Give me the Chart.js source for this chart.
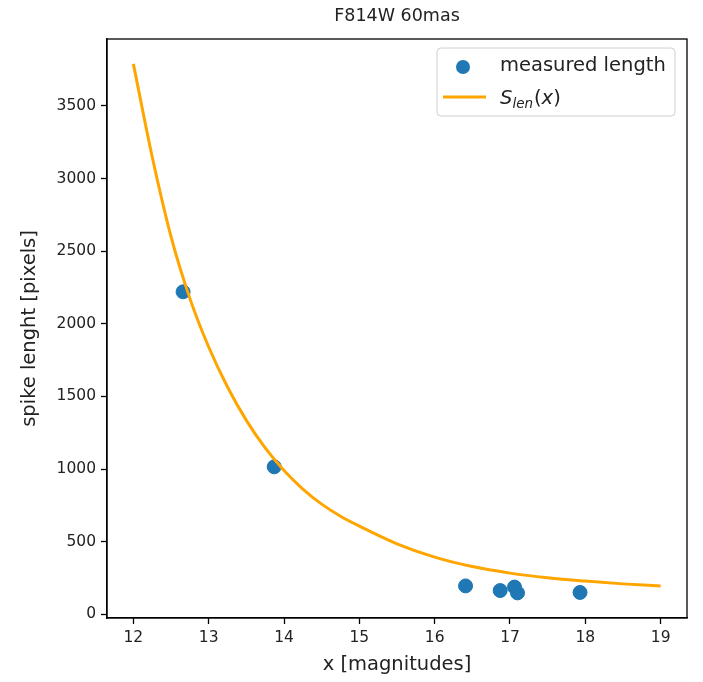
<!DOCTYPE html>
<html>
<head>
<meta charset="utf-8">
<script src="https://cdn.jsdelivr.net/npm/chart.js@4.4.1/dist/chart.umd.min.js"></script>
<style>
  html, body { margin: 0; padding: 0; background: #fff; }
  #wrap { width: 703px; height: 682px; position: relative; }
</style>
</head>
<body>
<div id="wrap"><canvas id="chart"></canvas></div>
<script>
'use strict';

// measured spike lengths
const measuredMag = [12.66, 13.87, 16.41, 16.87, 17.06, 17.10, 17.93];
const measuredLen = [2220, 1015, 195, 163, 187, 147, 150];

// S_len(x) curve
const curveMag = [12, 12.25, 12.5, 12.75, 13, 13.25, 13.5, 13.75, 14, 14.25, 14.5, 14.75, 15, 15.5, 16, 16.5, 17, 17.5, 18, 18.5, 19];
const curveLen = [3790, 3150, 2600, 2175, 1840, 1565, 1335, 1145, 990, 862, 758, 675, 607, 485, 393, 328, 283, 251, 228, 209, 194];

const xTicks = [12, 13, 14, 15, 16, 17, 18, 19];
const yTicks = [0, 500, 1000, 1500, 2000, 2500, 3000, 3500];

const FONT = 'DejaVu Sans';
const BLUE = '#1f77b4';
const ORANGE = '#ffa500';
const TEXT = '#222';

const framePlugin = {
    id: 'frame',
    afterDraw(chart) {
        const { ctx, chartArea: a } = chart;
        ctx.save();
        // axes box
        ctx.strokeStyle = '#000';
        ctx.lineWidth = 1.3;
        ctx.strokeRect(a.left, a.top, a.right - a.left, a.bottom - a.top);

        // title, centred on the plot area
        ctx.fillStyle = TEXT;
        ctx.font = `17.5px "${FONT}"`;
        ctx.textAlign = 'center';
        ctx.textBaseline = 'alphabetic';
        ctx.fillText('F814W 60mas', (a.left + a.right) / 2, 21);

        // legend
        const bx = 437, by = 48, bw = 238, bh = 68;
        ctx.beginPath();
        ctx.roundRect(bx, by, bw, bh, 4);
        ctx.fillStyle = 'rgba(255,255,255,0.8)';
        ctx.fill();
        ctx.strokeStyle = '#d0d0d0';
        ctx.lineWidth = 1;
        ctx.stroke();

        ctx.beginPath();
        ctx.arc(463, 67, 7, 0, Math.PI * 2);
        ctx.fillStyle = BLUE;
        ctx.fill();

        ctx.beginPath();
        ctx.moveTo(443, 97);
        ctx.lineTo(486, 97);
        ctx.strokeStyle = ORANGE;
        ctx.lineWidth = 3;
        ctx.stroke();

        ctx.fillStyle = TEXT;
        ctx.textAlign = 'left';
        ctx.textBaseline = 'middle';
        ctx.font = `19.5px "${FONT}"`;
        ctx.fillText('measured length', 500, 66);

        // S_len(x)
        let x = 500;
        const base = 104;
        ctx.textBaseline = 'alphabetic';
        ctx.font = `italic 19.5px "${FONT}"`;
        ctx.fillText('S', x, base);
        x += ctx.measureText('S').width;
        ctx.font = `italic 13.5px "${FONT}"`;
        ctx.fillText('len', x, base + 4);
        x += ctx.measureText('len').width + 1;
        ctx.font = `19.5px "${FONT}"`;
        ctx.fillText('(', x, base);
        x += ctx.measureText('(').width;
        ctx.font = `italic 19.5px "${FONT}"`;
        ctx.fillText('x', x, base);
        x += ctx.measureText('x').width;
        ctx.font = `19.5px "${FONT}"`;
        ctx.fillText(')', x, base);
        ctx.restore();
    }
};

const ctx = document.getElementById('chart').getContext('2d');

new Chart(ctx, {
    type: 'scatter',
    data: {
        datasets: [
            {
                type: 'line',
                label: 'S_len(x)',
                data: curveMag.map((m, i) => ({ x: m, y: curveLen[i] })),
                borderColor: ORANGE,
                borderWidth: 3,
                pointRadius: 0,
                fill: false,
                cubicInterpolationMode: 'monotone',
                order: 0
            },
            {
                label: 'measured length',
                data: measuredMag.map((m, i) => ({ x: m, y: measuredLen[i] })),
                backgroundColor: BLUE,
                borderColor: BLUE,
                pointRadius: 7,
                order: 1
            }
        ]
    },
    options: {
        responsive: true,
        maintainAspectRatio: false,
        animation: false,
        layout: { padding: { top: 39, right: 16, left: 0, bottom: 0 } },
        plugins: {
            legend: { display: false },
            title: { display: false },
            tooltip: { enabled: false }
        },
        scales: {
            x: {
                type: 'linear',
                min: 11.65,
                max: 19.35,
                afterFit: s => { s.height = 64; },
                afterBuildTicks: s => { s.ticks = xTicks.map(v => ({ value: v })); },
                grid: { drawOnChartArea: false, tickLength: 6, tickColor: '#000', tickWidth: 1.3 },
                border: { display: true, color: '#000', width: 1.3 },
                ticks: {
                    color: TEXT,
                    padding: 5,
                    font: { family: FONT, size: 15.5 },
                    callback: v => String(v)
                },
                title: {
                    display: true,
                    text: 'x [magnitudes]',
                    color: TEXT,
                    font: { family: FONT, size: 19.5 },
                    padding: { top: 0, bottom: 5 }
                }
            },
            y: {
                type: 'linear',
                min: -26,
                max: 3961,
                afterFit: s => { s.width = 107; },
                afterBuildTicks: s => { s.ticks = yTicks.map(v => ({ value: v })); },
                grid: { drawOnChartArea: false, tickLength: 6, tickColor: '#000', tickWidth: 1.3 },
                border: { display: true, color: '#000', width: 1.3 },
                ticks: {
                    color: TEXT,
                    padding: 5,
                    font: { family: FONT, size: 15.5 },
                    callback: v => String(v)
                },
                title: {
                    display: true,
                    text: 'spike lenght [pixels]',
                    color: TEXT,
                    font: { family: FONT, size: 19.5 },
                    padding: { top: 18, bottom: 0 }
                }
            }
        }
    },
    plugins: [framePlugin]
});
</script>
</body>
</html>
